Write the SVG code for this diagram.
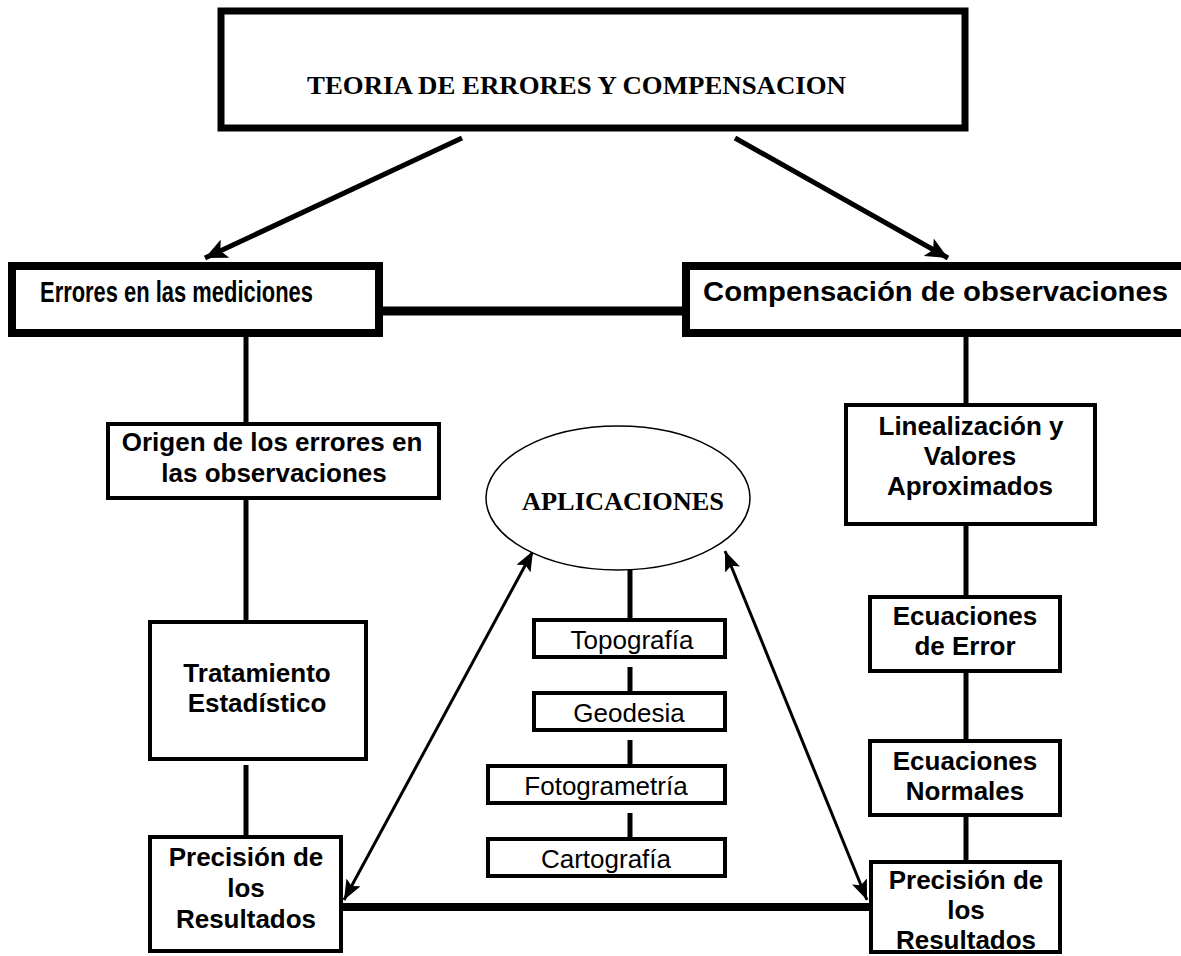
<svg xmlns="http://www.w3.org/2000/svg" width="1181" height="956" viewBox="0 0 1181 956">
<defs>
<style>
.bx{fill:#fff;stroke:#000}
.t{font-family:"Liberation Sans",Arial,sans-serif;font-weight:bold;font-size:26px;fill:#000;text-anchor:middle}
.r{font-family:"Liberation Sans",Arial,sans-serif;font-size:26px;fill:#000;text-anchor:middle}
.s{font-family:"Liberation Serif","Times New Roman",serif;font-weight:bold;font-size:26px;fill:#000}
.ln{stroke:#000;fill:none}
</style>
<marker id="ah" markerUnits="userSpaceOnUse" markerWidth="24" markerHeight="20" refX="22" refY="10" orient="auto">
<path d="M0,0 L22,10 L0,20 L5,10 Z" fill="#000"/>
</marker>
<marker id="ah2" markerUnits="userSpaceOnUse" markerWidth="22" markerHeight="16" refX="20" refY="8" orient="auto-start-reverse">
<path d="M0,0 L20,8 L0,16 L4,8 Z" fill="#000"/>
</marker>
</defs>
<rect width="1181" height="956" fill="#fff"/>
<g id="connectors">
<line class="ln" x1="462" y1="138" x2="205" y2="258" stroke-width="5" marker-end="url(#ah)"/>
<line class="ln" x1="735" y1="138" x2="948" y2="258" stroke-width="5" marker-end="url(#ah)"/>
<line class="ln" x1="383" y1="311" x2="682" y2="311" stroke-width="9"/>
<line class="ln" x1="246" y1="337" x2="246" y2="422" stroke-width="5"/>
<line class="ln" x1="246" y1="500" x2="246" y2="620" stroke-width="5"/>
<line class="ln" x1="246" y1="765" x2="246" y2="836" stroke-width="5"/>
<line class="ln" x1="966" y1="337" x2="966" y2="403" stroke-width="5"/>
<line class="ln" x1="966" y1="526" x2="966" y2="595" stroke-width="5"/>
<line class="ln" x1="966" y1="673" x2="966" y2="739" stroke-width="5"/>
<line class="ln" x1="966" y1="814" x2="966" y2="860" stroke-width="5"/>
<line class="ln" x1="342" y1="907" x2="869" y2="907" stroke-width="8"/>
<line class="ln" x1="630" y1="570" x2="630" y2="618" stroke-width="5"/>
<line class="ln" x1="630" y1="667" x2="630" y2="691" stroke-width="5"/>
<line class="ln" x1="630" y1="740" x2="630" y2="764" stroke-width="5"/>
<line class="ln" x1="630" y1="813" x2="630" y2="837" stroke-width="5"/>
<line class="ln" x1="344" y1="900" x2="533" y2="551" stroke-width="3" marker-start="url(#ah2)" marker-end="url(#ah2)"/>
<line class="ln" x1="867" y1="900" x2="725" y2="551" stroke-width="3" marker-start="url(#ah2)" marker-end="url(#ah2)"/>
</g>
<g id="n-teoria">
<rect class="bx" x="221" y="11" width="744" height="117" stroke-width="7"/>
<text class="s" x="307" y="94" textLength="539" lengthAdjust="spacingAndGlyphs">TEORIA DE ERRORES Y COMPENSACION</text>
</g>
<g id="n-errores">
<rect class="bx" x="12" y="266" width="367" height="67" stroke-width="8"/>
<text class="t" x="40" y="302" style="text-anchor:start;font-size:29px" textLength="273" lengthAdjust="spacingAndGlyphs">Errores en las mediciones</text>
</g>
<g id="n-compensacion">
<rect class="bx" x="686" y="266" width="510" height="67" stroke-width="8"/>
<text class="t" x="703" y="301" style="text-anchor:start;font-size:27px" textLength="465" lengthAdjust="spacingAndGlyphs">Compensación de observaciones</text>
</g>
<g id="n-origen">
<rect class="bx" x="108" y="424" width="331" height="74" stroke-width="4"/>
<text class="t" x="272" y="451">Origen de los errores en</text>
<text class="t" x="274" y="482">las observaciones</text>
</g>
<g id="n-tratamiento">
<rect class="bx" x="150" y="622" width="216" height="137" stroke-width="4"/>
<text class="t" x="257" y="682">Tratamiento</text>
<text class="t" x="257" y="712">Estadístico</text>
</g>
<g id="n-precision-izq">
<rect class="bx" x="150" y="837" width="191" height="114" stroke-width="4"/>
<text class="t" x="246" y="866">Precisión de</text>
<text class="t" x="246" y="897">los</text>
<text class="t" x="246" y="928">Resultados</text>
</g>
<g id="n-aplicaciones">
<ellipse cx="618" cy="498" rx="132" ry="72" fill="#fff" stroke="#000" stroke-width="1.5"/>
<text class="s" x="522" y="510" textLength="202" lengthAdjust="spacingAndGlyphs">APLICACIONES</text>
</g>
<g id="n-topografia">
<rect class="bx" x="534" y="620" width="191" height="37" stroke-width="4"/>
<text class="r" x="632" y="649">Topografía</text>
</g>
<g id="n-geodesia">
<rect class="bx" x="534" y="693" width="191" height="37" stroke-width="4"/>
<text class="r" x="629" y="722">Geodesia</text>
</g>
<g id="n-fotogrametria">
<rect class="bx" x="488" y="766" width="237" height="37" stroke-width="4"/>
<text class="r" x="606" y="795">Fotogrametría</text>
</g>
<g id="n-cartografia">
<rect class="bx" x="488" y="839" width="237" height="37" stroke-width="4"/>
<text class="r" x="606" y="868">Cartografía</text>
</g>
<g id="n-linealizacion">
<rect class="bx" x="846" y="405" width="249" height="119" stroke-width="4"/>
<text class="t" x="971" y="435">Linealización y</text>
<text class="t" x="970" y="465">Valores</text>
<text class="t" x="970" y="495">Aproximados</text>
</g>
<g id="n-ecuaciones-error">
<rect class="bx" x="870" y="597" width="190" height="74" stroke-width="4"/>
<text class="t" x="965" y="625">Ecuaciones</text>
<text class="t" x="965" y="655">de Error</text>
</g>
<g id="n-ecuaciones-normales">
<rect class="bx" x="870" y="741" width="190" height="74" stroke-width="4"/>
<text class="t" x="965" y="770">Ecuaciones</text>
<text class="t" x="965" y="800">Normales</text>
</g>
<g id="n-precision-der">
<rect class="bx" x="871" y="862" width="189" height="90" stroke-width="4"/>
<text class="t" x="966" y="889">Precisión de</text>
<text class="t" x="966" y="919">los</text>
<text class="t" x="966" y="949">Resultados</text>
</g>
</svg>
